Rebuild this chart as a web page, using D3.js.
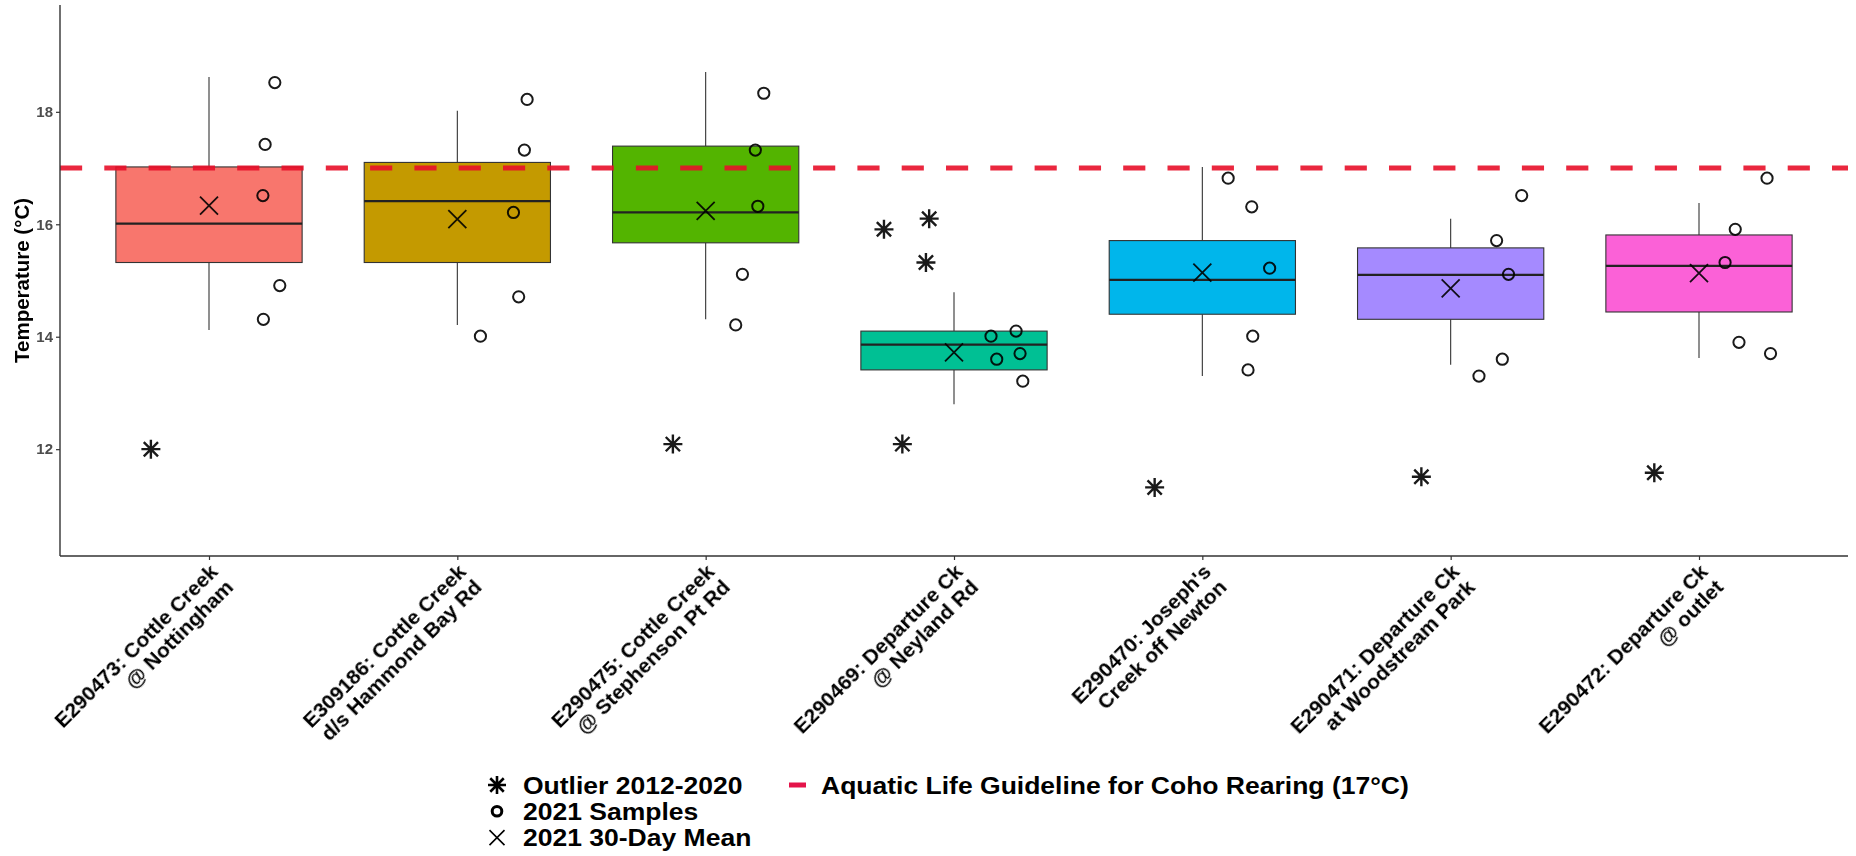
<!DOCTYPE html>
<html>
<head>
<meta charset="utf-8">
<script src="https://cdn.jsdelivr.net/npm/d3@7"></script>
<style>
  html, body { margin: 0; padding: 0; background: #ffffff; }
  svg { display: block; }
  text { font-family: "Liberation Sans", Arial, sans-serif; font-weight: bold; }
</style>
</head>
<body>
<svg id="chart" width="1856" height="856"></svg>
<script>
// ---------------- data ----------------
const categories = [
  "E290473: Cottle Creek\n@ Nottingham",
  "E309186: Cottle Creek\nd/s Hammond Bay Rd",
  "E290475: Cottle Creek\n@ Stephenson Pt Rd",
  "E290469: Departure Ck\n@ Neyland Rd",
  "E290470: Joseph's\nCreek off Newton",
  "E290471: Departure Ck\nat Woodstream Park",
  "E290472: Departure Ck\n@ outlet"
];
const boxColors = ["#F8766D", "#C49A00", "#53B400", "#00C094", "#00B6EB", "#A58AFF", "#FB61D7"];

// historical (2012-2020) box statistics
const whiskerLow  = [14.12, 14.21, 14.31, 12.80, 13.30, 13.50, 13.62];
const quartile1   = [15.32, 15.32, 15.67, 13.41, 14.40, 14.31, 14.44];
const median      = [16.01, 16.41, 16.21, 13.86, 15.01, 15.10, 15.26];
const quartile3   = [17.02, 17.10, 17.39, 14.10, 15.71, 15.58, 15.81];
const whiskerHigh = [18.62, 18.02, 18.71, 14.79, 17.02, 16.10, 16.38];

// 2021 30-day mean
const mean2021 = [16.33, 16.09, 16.24, 13.72, 15.14, 14.86, 15.13];

// 2021 samples (value, jitter in category units)
const samples2021 = [
  [18.52, 17.42, 16.51, 14.91, 14.31],
  [18.22, 17.32, 16.21, 14.71, 14.01],
  [18.33, 17.32, 16.32, 15.11, 14.21],
  [14.01, 14.10, 13.70, 13.60, 13.21],
  [16.82, 16.31, 15.22, 14.01, 13.41],
  [16.51, 15.71, 15.11, 13.60, 13.30],
  [16.82, 15.91, 15.32, 13.90, 13.70]
];
const samplesJitter = [
  [0.265, 0.226, 0.217, 0.285, 0.219],
  [0.281, 0.270, 0.226, 0.247, 0.093],
  [0.234, 0.200, 0.210, 0.148, 0.121],
  [0.149, 0.250, 0.266, 0.172, 0.277],
  [0.104, 0.199, 0.271, 0.203, 0.184],
  [0.286, 0.185, 0.233, 0.208, 0.114],
  [0.274, 0.146, 0.105, 0.161, 0.288]
];

// outliers 2012-2020 (value, jitter in category units)
const outliers = [
  [12.00],
  [],
  [12.09],
  [15.91, 16.10, 15.32, 12.09],
  [11.32],
  [11.51],
  [11.58]
];
const outliersJitter = [
  [-0.234],
  [],
  [-0.132],
  [-0.282, -0.100, -0.113, -0.208],
  [-0.192],
  [-0.118],
  [-0.180]
];

const guideline = 17;
const yTicks = [12, 14, 16, 18];
const yTitle = "Temperature (°C)";
const legendLeft = ["Outlier 2012-2020", "2021 Samples", "2021 30-Day Mean"];
const legendRight = "Aquatic Life Guideline for Coho Rearing (17°C)";

// ---------------- layout ----------------
const svg = d3.select("#chart");
const panel = { left: 60, right: 1848, top: 5, bottom: 556 };

const x = d3.scalePoint().domain(categories).range([panel.left, panel.right]).padding(0.6);
const step = x.step();
const boxW = step * 0.75;
const y = d3.scaleLinear().domain([10.1, 19.9]).range([panel.bottom, panel.top]);

// custom symbol shapes via d3.symbol
const symX = { draw(ctx, size) { const r = Math.sqrt(size) / 2;
  ctx.moveTo(-r, -r); ctx.lineTo(r, r); ctx.moveTo(-r, r); ctx.lineTo(r, -r); } };
const symStar = { draw(ctx, size) { const r = Math.sqrt(size) / 2; const d = r * 0.75;
  ctx.moveTo(-r, 0); ctx.lineTo(r, 0); ctx.moveTo(0, -r); ctx.lineTo(0, r);
  ctx.moveTo(-d, -d); ctx.lineTo(d, d); ctx.moveTo(-d, d); ctx.lineTo(d, -d); } };

const data = categories.map((c, i) => ({
  cat: c, i,
  lo: whiskerLow[i], q1: quartile1[i], med: median[i], q3: quartile3[i], hi: whiskerHigh[i],
  mean: mean2021[i]
}));

// ---------------- boxes ----------------
const g = svg.append("g");
const boxes = g.selectAll("g.box").data(data).join("g").attr("class", "box");
boxes.append("line")
  .attr("x1", d => x(d.cat)).attr("x2", d => x(d.cat))
  .attr("y1", d => y(d.hi)).attr("y2", d => y(d.q3))
  .attr("stroke", "#333").attr("stroke-width", 1.1);
boxes.append("line")
  .attr("x1", d => x(d.cat)).attr("x2", d => x(d.cat))
  .attr("y1", d => y(d.q1)).attr("y2", d => y(d.lo))
  .attr("stroke", "#333").attr("stroke-width", 1.1);
boxes.append("rect")
  .attr("x", d => x(d.cat) - boxW / 2).attr("width", boxW)
  .attr("y", d => y(d.q3)).attr("height", d => y(d.q1) - y(d.q3))
  .attr("fill", d => boxColors[d.i]).attr("stroke", "#333").attr("stroke-width", 1.1);
boxes.append("line")
  .attr("x1", d => x(d.cat) - boxW / 2).attr("x2", d => x(d.cat) + boxW / 2)
  .attr("y1", d => y(d.med)).attr("y2", d => y(d.med))
  .attr("stroke", "#222").attr("stroke-width", 2.2);

// ---------------- points ----------------
const pts = svg.append("g").attr("opacity", 0.9);
categories.forEach((c, i) => {
  outliers[i].forEach((v, k) => {
    pts.append("path")
      .attr("d", d3.symbol().type(symStar).size(19 * 19)())
      .attr("transform", `translate(${x(c) + outliersJitter[i][k] * step},${y(v)})`)
      .attr("fill", "none").attr("stroke", "#000").attr("stroke-width", 2.4);
  });
  samples2021[i].forEach((v, k) => {
    pts.append("circle")
      .attr("cx", x(c) + samplesJitter[i][k] * step).attr("cy", y(v)).attr("r", 5.6)
      .attr("fill", "none").attr("stroke", "#000").attr("stroke-width", 2);
  });
});
pts.selectAll("path.mean").data(data).join("path").attr("class", "mean")
  .attr("d", d3.symbol().type(symX).size(18 * 18)())
  .attr("transform", d => `translate(${x(d.cat)},${y(d.mean)})`)
  .attr("fill", "none").attr("stroke", "#000").attr("stroke-width", 1.8);

// ---------------- guideline ----------------
svg.append("line")
  .attr("x1", panel.left).attr("x2", panel.right)
  .attr("y1", y(guideline)).attr("y2", y(guideline))
  .attr("stroke", "#E8102A").attr("stroke-width", 5)
  .attr("stroke-dasharray", "22.15,22.15").attr("opacity", 0.9);

// ---------------- axes ----------------
const yAxis = svg.append("g").attr("transform", `translate(${panel.left},0)`)
  .call(d3.axisLeft(y).tickValues(yTicks).tickSize(4).tickPadding(3).tickSizeOuter(0));
yAxis.select(".domain").attr("stroke", "#333").attr("stroke-width", 1.4)
  .attr("d", `M0,${panel.top}V${panel.bottom}`);
yAxis.selectAll(".tick line").attr("stroke", "#333").attr("stroke-width", 1.2);
yAxis.selectAll(".tick text").attr("fill", "#4D4D4D").style("font-size", "15px")
  .style("font-family", "'Liberation Sans', Arial, sans-serif").style("font-weight", "bold");

const xAxis = svg.append("g").attr("transform", `translate(0,${panel.bottom})`)
  .call(d3.axisBottom(x).tickSize(4).tickSizeOuter(0).tickFormat(""));
xAxis.select(".domain").attr("stroke", "#333").attr("stroke-width", 1.4)
  .attr("d", `M${panel.left},0H${panel.right}`);
xAxis.selectAll(".tick line").attr("stroke", "#333").attr("stroke-width", 1.2);

// rotated two-line category labels
const labels = svg.append("g").selectAll("text").data(categories).join("text")
  .attr("transform", d => `translate(${x(d) + 10},${panel.bottom + 17}) rotate(-45)`)
  .attr("text-anchor", "end").attr("fill", "#000").style("font-size", "21px");
labels.each(function(d) {
  const lines = d.split("\n");
  d3.select(this).selectAll("tspan").data(lines).join("tspan")
    .attr("x", 0).attr("y", (l, j) => j * 22).text(l => l);
});

// y title
svg.append("text")
  .attr("transform", `translate(29,${(panel.top + panel.bottom) / 2}) rotate(-90)`)
  .attr("text-anchor", "middle").attr("fill", "#000").style("font-size", "20.5px")
  .text(yTitle);

// ---------------- legend ----------------
const leg = svg.append("g");
const legFont = 23.5, legWiden = 26.5 / 23.5;
const legBase = [793.5, 819.8, 846.1];
const legSym = ["star", "circle", "x"];
function legText(xp, yp, t) {
  const el = leg.append("text").attr("x", xp).attr("y", yp).attr("fill", "#000")
    .style("font-size", legFont + "px").text(t);
  const w = el.node().getComputedTextLength();
  el.attr("textLength", w * legWiden).attr("lengthAdjust", "spacingAndGlyphs");
}
legendLeft.forEach((t, k) => {
  legText(523, legBase[k], t);
  const cy = legBase[k] - 8.5;
  if (legSym[k] === "star") {
    leg.append("path").attr("d", d3.symbol().type(symStar).size(18 * 18)())
      .attr("transform", `translate(497,${cy})`).attr("fill", "none")
      .attr("stroke", "#000").attr("stroke-width", 2.6);
  } else if (legSym[k] === "circle") {
    leg.append("circle").attr("cx", 497).attr("cy", cy).attr("r", 4.8)
      .attr("fill", "none").attr("stroke", "#000").attr("stroke-width", 3);
  } else {
    leg.append("path").attr("d", d3.symbol().type(symX).size(15 * 15)())
      .attr("transform", `translate(497,${cy})`).attr("fill", "none")
      .attr("stroke", "#000").attr("stroke-width", 1.6);
  }
});
leg.append("line").attr("x1", 789).attr("x2", 806)
  .attr("y1", legBase[0] - 8.5).attr("y2", legBase[0] - 8.5)
  .attr("stroke", "#E4144A").attr("stroke-width", 5);
legText(821, legBase[0], legendRight);
</script>
</body>
</html>
